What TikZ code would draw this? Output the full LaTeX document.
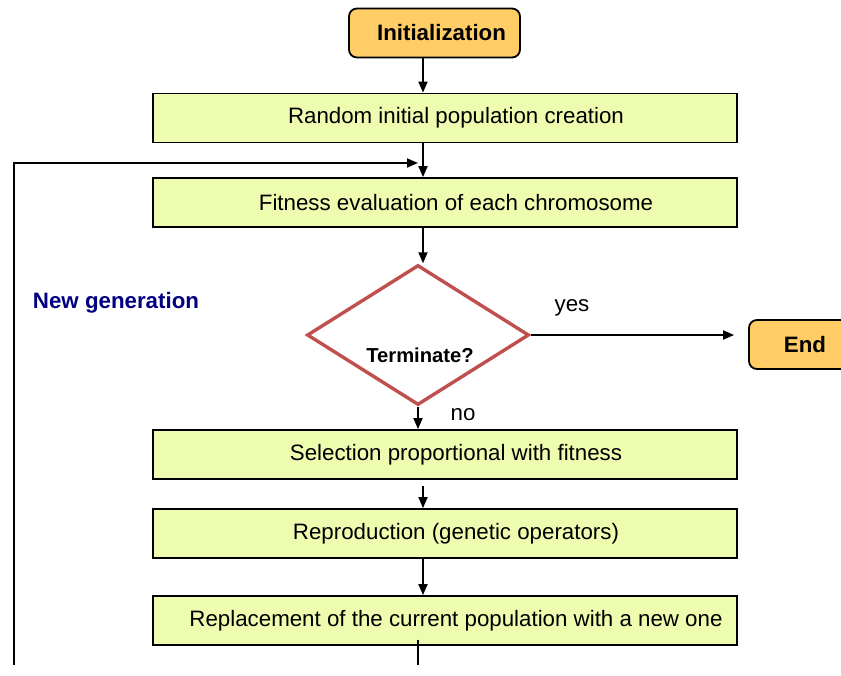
\documentclass[tikz,border=0pt]{standalone}
\usepackage{fontspec}
\setmainfont{Liberation Sans}
\usetikzlibrary{shapes.geometric,arrows.meta}
\definecolor{stepfill}{RGB}{238,252,176}
\definecolor{endfill}{RGB}{255,204,102}
\definecolor{termline}{RGB}{192,80,77}
\definecolor{gentext}{RGB}{0,0,128}
\tikzset{
  stepbox/.style={draw, line width=0.9pt, fill=stepfill, minimum width=292pt, minimum height=24.5pt, inner sep=0pt, execute at begin node={\hspace*{11pt}}},
  endbox/.style={draw, line width=0.9pt, fill=endfill, rounded corners=4pt, minimum height=24.5pt, inner sep=0pt, font=\bfseries},
  flow/.style={line width=0.9pt, -{Triangle[length=5.5pt,width=4.5pt]}},
}
\begin{document}
\begin{tikzpicture}[x=0.5pt,y=-0.5pt]
                        \useasboundingbox (0,0) rectangle (841,675);
                        {\fontsize{11.15}{13}\selectfont

                        % Marking the main and the side flow line
                        \coordinate (spine) at (423,0);%
                        \coordinate (loopin) at (418,163);%
                        \coordinate (loopout) at (418,665);%
                        \coordinate (loopleft) at (14,665);%

                        % Drawing box Initialization
                        \node [endbox, minimum width=85.5pt, execute at begin node={\hspace*{7pt}}] (init) at (434.5,33) {Initialization};%

                        % Drawing the steps
                        \node [stepbox] (random) at (445,118) {Random initial population creation};%
                        \node [stepbox] (fitness) at (445,202.5) {Fitness evaluation of each chromosome};%
                        \node [stepbox] (select) at (445,454.5) {Selection proportional with fitness};%
                        \node [stepbox] (repro) at (445,533.5) {Reproduction (genetic operators)};%
                        \node [stepbox] (replace) at (445,620.5) {Replacement of the current population with a new one};%

                        % Drawing diamond Terminate?
                        \node [diamond, draw=termline, line width=1.7pt, minimum width=111pt, minimum height=70pt, inner sep=0pt] (term) at (418,335) {};%
                        \node [font=\bfseries\fontsize{10.1}{12}\selectfont] (termtext) at (420,355) {Terminate?};%

                        % Drawing box End
                        \node [endbox, minimum width=56pt] (end) at (805,344.5) {End};%

                        % Marking labels
                        \node (yes) at (572,308) {yes};%
                        \node (no) at (463,415) {no};%
                        \node [font=\bfseries, text=gentext] (newgen) at (116,303) {New generation};%

                        % Drawing arrows
                        \draw [flow] (init.south -| spine) -- (random.north -| spine);%
                        \draw [flow] (random.south -| spine) -- (fitness.north -| spine);%
                        \draw [flow] (fitness.south -| spine) -- (term.north -| spine);%
                        \draw [flow] (term.south) -- (select.north -| term.south);%
                        \draw [flow, shorten <=3pt] (select.south -| spine) -- (repro.north -| spine);%
                        \draw [flow] (repro.south -| spine) -- (replace.north -| spine);%
                        \draw [flow, shorten >=7pt] (term.east) -- (term.east -| end.west);%

                        % Drawing the loop back
                        \draw [line width=0.9pt] ([yshift=3pt]replace.south -| loopout) -- (loopout);%
                        \draw [flow] (loopleft) |- (loopin);%
                        }
\end{tikzpicture}
\end{document}
